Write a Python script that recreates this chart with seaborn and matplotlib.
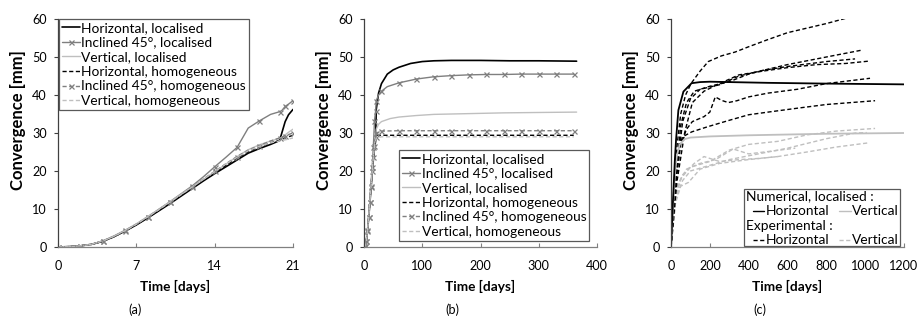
import matplotlib
matplotlib.use("Agg")
import matplotlib.pyplot as plt
import seaborn as sns
from matplotlib.lines import Line2D
from matplotlib.patches import Rectangle

# ---------------- data : panel (a) ----------------
t_a = [0, 1, 2, 3, 4, 5, 6, 7, 8, 9, 10, 11, 12, 13, 14, 15, 16, 17, 18, 19, 19.8, 20.0, 20.3, 20.6, 21]
a_h_loc = [0, 0.1, 0.3, 0.7, 1.5, 2.7, 4.2, 5.8, 7.6, 9.5, 11.4, 13.4, 15.4, 17.4, 19.3, 21.1, 22.9, 24.7, 25.9, 27.0, 28.0, 30.0, 33.0, 34.8, 36.2]
a_i_loc = [0, 0.1, 0.3, 0.7, 1.6, 2.9, 4.4, 6.0, 7.9, 9.9, 11.9, 14.0, 16.1, 18.5, 21.1, 23.6, 26.2, 31.3, 33.2, 34.9, 35.6, 35.9, 37.0, 37.6, 38.5]
a_v_loc = [0, 0.1, 0.3, 0.7, 1.6, 2.8, 4.4, 6.1, 8.0, 9.9, 11.9, 13.9, 15.8, 17.8, 19.8, 21.8, 23.8, 25.6, 26.9, 27.9, 28.6, 28.9, 29.5, 30.2, 31.0]
a_h_hom = [0, 0.1, 0.3, 0.7, 1.5, 2.7, 4.2, 5.9, 7.7, 9.6, 11.6, 13.6, 15.6, 17.6, 19.6, 21.5, 23.4, 25.1, 26.4, 27.4, 28.1, 28.4, 28.7, 29.0, 29.4]
a_i_hom = [0, 0.1, 0.3, 0.7, 1.6, 2.8, 4.3, 6.0, 7.9, 9.8, 11.8, 13.8, 15.8, 17.9, 19.9, 21.9, 23.8, 25.5, 26.7, 27.9, 28.7, 28.9, 29.3, 29.6, 30.0]
a_v_hom = [0, 0.1, 0.3, 0.7, 1.6, 2.8, 4.3, 6.0, 7.9, 9.8, 11.8, 13.8, 15.8, 17.8, 19.8, 21.8, 23.6, 25.3, 26.5, 27.4, 27.9, 28.0, 28.2, 28.4, 28.7]

# ---------------- data : panel (b) ----------------
tb_h = [0, 2, 4, 6, 8, 10, 12, 14, 16, 18, 20, 21, 25, 30, 40, 50, 60, 80, 100, 120, 150, 200, 250, 300, 365]
b_h_loc = [0, 0.3, 1.5, 4.2, 7.6, 11.4, 15.4, 19.3, 22.9, 25.9, 28.0, 36.2, 40.5, 43.0, 45.5, 46.6, 47.3, 48.3, 48.8, 49.0, 49.1, 49.1, 49.0, 49.0, 48.9]
tb_i = [0, 2, 4, 6, 8, 10, 12, 14, 16, 18, 20, 21, 25, 30, 40, 60, 90, 120, 150, 180, 210, 240, 270, 300, 330, 360]
b_i_loc = [0, 0.3, 1.6, 4.4, 7.9, 11.9, 16.1, 21.1, 26.2, 33.2, 35.9, 38.5, 40.0, 41.0, 42.2, 43.2, 44.2, 44.8, 45.1, 45.3, 45.4, 45.4, 45.5, 45.5, 45.5, 45.5]
tb_v = [0, 2, 4, 6, 8, 10, 12, 14, 16, 18, 20, 21, 25, 30, 45, 60, 90, 120, 180, 240, 300, 365]
b_v_loc = [0, 0.3, 1.6, 4.4, 8.0, 11.9, 15.8, 19.8, 23.8, 26.9, 28.6, 31.0, 32.3, 33.0, 33.8, 34.2, 34.6, 34.9, 35.1, 35.3, 35.4, 35.5]
tb_hom = [0, 2, 4, 6, 8, 10, 12, 14, 16, 18, 20, 21, 30, 60, 90, 120, 150, 180, 210, 240, 270, 300, 330, 360]
b_h_hom = [0, 0.3, 1.5, 4.2, 7.7, 11.6, 15.6, 19.6, 23.4, 26.4, 28.4, 29.4, 29.4, 29.4, 29.4, 29.4, 29.4, 29.4, 29.4, 29.4, 29.4, 29.4, 29.4, 29.4]
b_i_hom = [0, 0.3, 1.6, 4.3, 7.9, 11.8, 15.8, 19.9, 23.8, 26.7, 28.9, 30.0, 30.5, 30.6, 30.6, 30.6, 30.6, 30.6, 30.6, 30.6, 30.6, 30.6, 30.6, 30.6]
b_v_hom = [0, 0.3, 1.6, 4.3, 7.9, 11.8, 15.8, 19.8, 23.6, 26.5, 28.0, 28.7, 29.0, 29.0, 29.0, 29.0, 29.0, 29.0, 29.0, 29.0, 29.0, 29.0, 29.0, 29.0]

# ---------------- data : panel (c) ----------------
tc_num_h = [0, 10, 20, 26, 38, 64, 106, 150, 200, 300, 500, 800, 1200]
c_num_h = [0, 12, 23, 28.2, 36, 40.9, 43.1, 43.4, 43.5, 43.4, 43.2, 43.0, 42.8]
tc_num_v = [0, 10, 20, 30, 45, 70, 100, 200, 400, 600, 800, 1200]
c_num_v = [0, 10, 19, 24, 27, 28.4, 28.8, 29.1, 29.4, 29.6, 29.8, 30.0]

tc_e1 = [0, 10, 25, 50, 75, 103, 150, 192, 260, 330, 400, 500, 600, 700, 800, 930]
c_e1 = [0, 10, 24, 35, 40, 43, 46.3, 48.8, 50.3, 51.3, 52.7, 54.6, 56.4, 57.6, 58.8, 60.6]
tc_e2 = [0, 20, 50, 80, 120, 200, 300, 400, 475, 600, 800, 982]
c_e2 = [0, 15, 32, 38, 41, 42.3, 43.5, 45.5, 46.5, 48.0, 50.0, 51.8]
tc_e3 = [0, 25, 60, 100, 150, 250, 350, 475, 600, 800, 948]
c_e3 = [0, 18, 33, 39, 41.5, 42.7, 45.0, 46.5, 47.5, 48.8, 49.5]
tc_e4 = [0, 30, 70, 110, 170, 250, 350, 475, 600, 750, 900, 1016]
c_e4 = [0, 17, 30, 38, 41, 43, 45.3, 46.3, 47.2, 48.0, 48.3, 48.9]
tc_e5 = [0, 20, 50, 80, 110, 170, 200, 228, 260, 295, 340, 400, 500, 650, 800, 1025]
c_e5 = [0, 15, 27, 31, 33, 34.3, 35.5, 39.5, 38.6, 38.0, 38.5, 39.5, 40.5, 41.5, 43.0, 44.4]
tc_e6 = [0, 15, 38, 60, 107, 192, 304, 400, 500, 647, 800, 1051]
c_e6 = [0, 12, 26, 29, 30.3, 31.7, 33.4, 34.8, 35.5, 36.5, 37.5, 38.5]

tc_v1 = [0, 20, 50, 100, 200, 300, 400, 550, 700, 850, 1051]
c_v1 = [0, 12, 18, 21, 22.5, 25.5, 27.0, 27.8, 29.5, 30.5, 31.2]
tc_v2 = [0, 25, 60, 100, 200, 300, 450, 600, 800, 950, 1008]
c_v2 = [0, 13, 17.5, 20, 21.5, 23, 24.5, 26, 28.5, 30, 30.1]
tc_v3 = [0, 20, 50, 90, 150, 250, 400, 550, 700, 850, 1016]
c_v3 = [0, 11, 16, 17, 20.5, 22, 23, 23.8, 25, 26.3, 27.4]
tc_v4 = [0, 30, 60, 120, 170, 250, 350, 450, 550]
c_v4 = [0, 15, 19, 22, 23.8, 22.5, 23, 23.3, 23.8]
tc_v5 = [0, 30, 80, 150, 230, 320, 400, 480, 560, 640]
c_v5 = [0, 16, 20.5, 22, 23, 25.8, 24.5, 25, 25.5, 26]

labels_ab = ["Horizontal, localised", "Inclined 45°, localised", "Vertical, localised",
             "Horizontal, homogeneous", "Inclined 45°, homogeneous", "Vertical, homogeneous"]

# ---------------- style ----------------
sns.set_style("ticks")
plt.rcParams["font.family"] = ["Lato", "DejaVu Sans"]
plt.rcParams["text.color"] = "#000000"
BLACK, GRAY, LGRAY = "#000000", "#7f7f7f", "#bfbfbf"
DASH = (0, (3, 1.8))

W, H = 922, 320
fig = plt.figure(figsize=(W / 100, H / 100), dpi=100)
renderer = fig.canvas.get_renderer()


def fit_size(text, target_px, weight="normal", base=10.0):
    """font size giving the text the pixel width measured on the reference"""
    t = fig.text(0, 0, text, fontsize=base, fontweight=weight)
    w = t.get_window_extent(renderer=renderer).width
    t.remove()
    return base * target_px / w


FS_L = fit_size("Inclined 45°, homogeneous", 165)
FS_X = fit_size("Time [days]", 70, "bold")
FS_Y = fit_size("Convergence [mm]", 140, "bold")
FS_T = 0.5 * (fit_size("400", 23) + fit_size("60", 14))


def ax_at(x0, x1, y_top=19, y_bot=247):
    return fig.add_axes([x0 / W, 1 - y_bot / H, (x1 - x0) / W, (y_bot - y_top) / H])

axA = ax_at(58, 293)
axB = ax_at(364, 597)
axC = ax_at(671, 904)


def draw(ax, t, y, color, ls="-", lw=1.0, marker=None, markevery=None):
    kw = dict(color=color, linestyle=ls, lw=lw)
    if marker is not None:
        kw.update(marker=marker, markevery=markevery, markersize=3.6,
                  markeredgewidth=0.9, markeredgecolor=color)
    sns.lineplot(x=t, y=y, ax=ax, estimator=None, sort=False, legend=False, **kw)
    return ax.lines[-1]


def style_axes(ax, xlim, xticks):
    ax.set_xlim(*xlim)
    ax.set_ylim(0, 60)
    ax.set_xticks(xticks)
    ax.set_yticks(range(0, 61, 10))
    for s in ("top", "right"):
        ax.spines[s].set_visible(False)
    ax.spines["left"].set_color("#404040")
    ax.spines["bottom"].set_color("#808080")
    ax.spines["left"].set_linewidth(0.9)
    ax.spines["bottom"].set_linewidth(0.9)
    ax.tick_params(axis="y", direction="out", length=3, width=0.8, color="#404040",
                   labelsize=FS_T, labelcolor="#000000", pad=5)
    ax.tick_params(axis="x", direction="in", length=3, width=0.8, color="#808080",
                   labelsize=FS_T, labelcolor="#000000", pad=9)
    ax.set_xlabel("Time [days]", fontsize=FS_X, fontweight="bold", color="#000000")
    ax.set_ylabel("Convergence [mm]", fontsize=FS_Y, fontweight="bold", color="#000000")
    ax.xaxis.set_label_coords(0.5, -0.175)
    ax.xaxis.label.set_va("center")
    ax.yaxis.set_label_coords(-0.172, 0.557)
    ax.yaxis.label.set_va("center")


def legend_ab(ax, lines, **kw):
    leg = ax.legend(lines, labels_ab, borderaxespad=0, fontsize=FS_L, handlelength=1.3,
                    handletextpad=0.1, labelspacing=0.19, borderpad=0.22,
                    fancybox=False, framealpha=1, **kw)
    leg.get_frame().set_edgecolor("#595959")
    leg.get_frame().set_linewidth(0.9)
    return leg


# ---------------- panel (a) ----------------
la = [
    draw(axA, t_a, a_h_loc, BLACK, lw=1.2),
    draw(axA, t_a, a_i_loc, GRAY, marker="x", markevery=2),
    draw(axA, t_a, a_v_loc, LGRAY),
    draw(axA, t_a, a_h_hom, BLACK, ls=DASH),
    draw(axA, t_a, a_i_hom, GRAY, ls=DASH, marker="x", markevery=2),
    draw(axA, t_a, a_v_hom, LGRAY, ls=DASH),
]
style_axes(axA, (0, 21), [0, 7, 14, 21])
legend_ab(axA, la, loc="upper left", bbox_to_anchor=(0.005, 1.0))

# ---------------- panel (b) ----------------
mk_i = [0, 1, 2, 3, 4, 5, 6, 7, 8, 9, 10, 11, 13, 15, 16, 17, 18, 19, 20, 21, 22, 23, 24, 25]
lb = [
    draw(axB, tb_h, b_h_loc, BLACK, lw=1.2),
    draw(axB, tb_i, b_i_loc, GRAY, marker="x", markevery=mk_i),
    draw(axB, tb_v, b_v_loc, LGRAY),
    draw(axB, tb_hom, b_h_hom, BLACK, ls=DASH),
    draw(axB, tb_hom, b_i_hom, GRAY, ls=DASH, marker="x", markevery=1),
    draw(axB, tb_hom, b_v_hom, LGRAY, ls=DASH),
]
style_axes(axB, (0, 400), [0, 100, 200, 300, 400])
legend_ab(axB, lb, loc="lower right", bbox_to_anchor=(0.967, 0.027))

# ---------------- panel (c) ----------------
for t, y in [(tc_v1, c_v1), (tc_v2, c_v2), (tc_v3, c_v3), (tc_v4, c_v4), (tc_v5, c_v5)]:
    draw(axC, t, y, LGRAY, ls=DASH)
for t, y in [(tc_e1, c_e1), (tc_e2, c_e2), (tc_e3, c_e3), (tc_e4, c_e4), (tc_e5, c_e5), (tc_e6, c_e6)]:
    draw(axC, t, y, BLACK, ls=DASH)
draw(axC, tc_num_v, c_num_v, LGRAY, lw=1.3)
draw(axC, tc_num_h, c_num_h, BLACK, lw=1.3)
style_axes(axC, (0, 1200), [0, 200, 400, 600, 800, 1000, 1200])

# custom grouped legend for (c)
tr = axC.transAxes
axC.add_patch(Rectangle((0.313, 0.004), 0.67, 0.252, transform=tr, facecolor="white",
                        edgecolor="#595959", lw=0.9, zorder=5, clip_on=False))
rows = [0.222, 0.157, 0.091, 0.031]
axC.text(0.320, rows[0], "Numerical, localised :", transform=tr, fontsize=FS_L,
         va="center", ha="left", zorder=6)
axC.text(0.320, rows[2], "Experimental :", transform=tr, fontsize=FS_L,
         va="center", ha="left", zorder=6)
for row, ls in [(rows[1], "-"), (rows[3], DASH)]:
    axC.add_line(Line2D([0.350, 0.400], [row, row], transform=tr, color=BLACK,
                        linestyle=ls, lw=1.0, zorder=6))
    axC.text(0.405, row, "Horizontal", transform=tr, fontsize=FS_L, va="center",
             ha="left", zorder=6)
    axC.add_line(Line2D([0.722, 0.772], [row, row], transform=tr, color=LGRAY,
                        linestyle=ls, lw=1.0, zorder=6))
    axC.text(0.777, row, "Vertical", transform=tr, fontsize=FS_L, va="center",
             ha="left", zorder=6)

# captions
for xpix, s in [(135, "(a)"), (452, "(b)"), (760, "(c)")]:
    fig.text(xpix / W, 1 - 310 / H, s, ha="center", va="center", fontsize=FS_T)

fig.savefig("out.png", dpi=100)
